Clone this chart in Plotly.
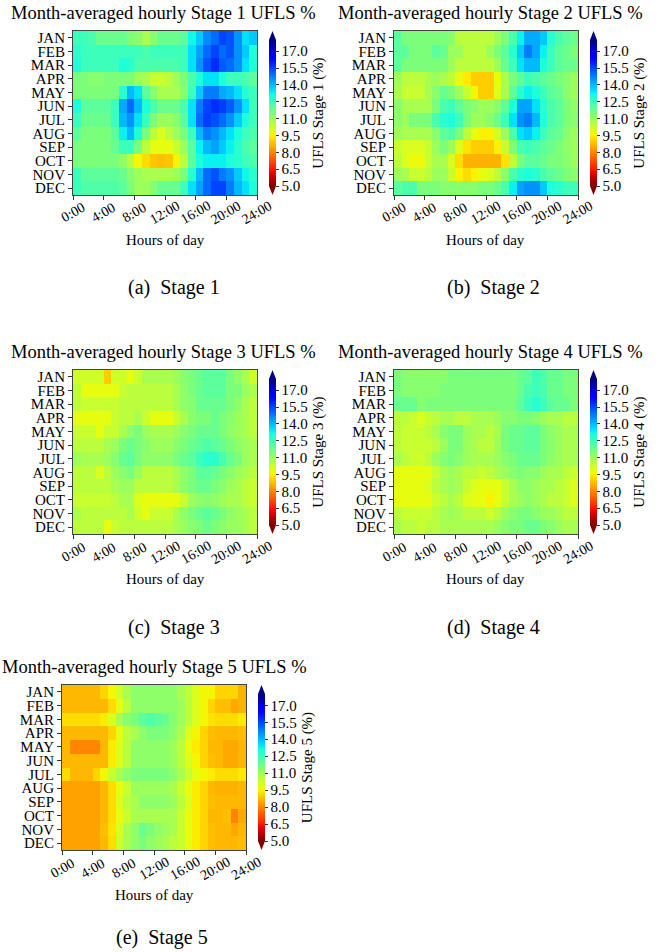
import numpy as np
import plotly.graph_objects as go

W, H = 663, 952

months = ["JAN", "FEB", "MAR", "APR", "MAY", "JUN", "JUL", "AUG", "SEP", "OCT", "NOV", "DEC"]
hour_ticks = [0, 4, 8, 12, 16, 20, 24]
hour_labels = ["0:00", "4:00", "8:00", "12:00", "16:00", "20:00", "24:00"]
cbar_ticks = [5.0, 6.5, 8.0, 9.5, 11.0, 12.5, 14.0, 15.5, 17.0]

stage1 = [
    [12.5,12.5,12.3,11.8,11.8,11.8,11.8,11.5,11.3,10.8,11.3,11.8,11.8,11.8,12.0,13.2,13.8,14.6,15.0,15.5,15.3,14.5,13.5,13.8],
    [12.8,12.5,12.5,12.5,12.5,12.5,12.5,12.5,12.5,12.3,12.5,12.5,12.5,12.5,12.5,13.5,14.3,15.0,15.5,15.0,15.3,14.5,13.8,13.0],
    [13.0,12.5,12.5,12.5,12.5,12.5,13.0,12.8,12.3,12.3,12.3,12.3,12.3,12.3,12.5,13.5,14.5,15.3,15.8,15.2,15.0,14.5,13.5,13.0],
    [11.5,11.5,11.3,11.3,11.5,11.5,11.5,11.5,11.0,10.8,10.3,10.3,10.5,11.0,11.5,12.3,13.0,13.5,13.5,13.0,12.5,12.5,12.3,12.0],
    [11.5,11.5,11.5,11.5,11.5,11.5,12.8,14.0,13.5,12.0,11.3,10.8,10.8,10.8,11.3,12.5,13.8,14.8,14.8,14.2,14.0,13.5,12.8,12.5],
    [13.0,12.0,12.0,12.0,12.0,12.5,14.2,15.0,14.0,13.0,12.3,11.8,11.8,11.8,12.3,13.5,14.8,15.5,15.8,15.6,15.2,14.5,13.5,12.5],
    [12.5,11.8,11.8,11.8,11.8,12.5,14.0,14.5,13.5,12.5,11.5,11.0,11.0,11.3,12.0,13.5,15.0,15.6,15.4,15.0,14.5,13.8,13.0,12.5],
    [12.0,11.5,11.5,11.5,11.5,12.0,13.3,14.0,13.0,11.5,10.5,10.0,10.5,11.0,11.5,12.5,14.0,14.8,14.5,14.0,13.5,13.0,12.5,12.3],
    [11.5,11.5,11.5,11.5,11.5,11.8,12.5,12.5,11.5,10.5,9.8,9.8,9.8,10.3,11.0,12.0,13.3,14.0,14.3,13.8,13.3,12.8,12.3,12.0],
    [11.5,11.5,11.5,11.5,11.5,11.5,11.2,10.5,9.6,9.2,8.9,8.8,8.9,9.5,10.5,12.0,13.0,13.3,13.3,13.3,13.0,12.8,12.5,12.3],
    [12.5,12.0,12.0,12.0,12.0,12.0,11.8,11.3,11.0,10.8,10.8,10.8,10.8,11.0,11.5,12.8,14.0,15.0,15.3,14.8,14.5,13.8,13.2,12.8],
    [12.5,12.2,12.2,12.2,12.2,12.2,12.0,11.5,11.0,11.0,11.3,11.8,11.8,11.8,12.5,13.5,14.3,15.0,15.5,15.5,14.8,14.0,13.5,13.0],
]

stage2 = [
    [12.0,11.5,11.5,11.5,11.5,11.5,11.5,11.3,10.5,10.5,10.5,10.5,10.5,11.0,11.5,12.3,13.3,14.2,14.2,13.8,12.8,12.3,12.0,11.8],
    [12.0,12.0,11.5,11.5,11.5,12.0,11.8,11.0,11.0,10.5,10.5,10.5,11.0,11.5,12.0,12.8,13.8,14.8,14.2,13.3,12.5,12.0,11.8,11.5],
    [12.0,11.5,11.5,11.5,11.5,11.5,11.5,11.0,10.5,10.5,10.5,10.5,10.5,11.0,11.8,12.5,13.5,14.0,14.0,13.0,12.5,12.0,11.8,11.8],
    [11.0,10.5,10.5,10.5,10.8,11.0,10.8,10.5,9.8,9.4,9.0,9.0,9.0,9.8,10.8,11.5,12.0,12.5,12.3,12.0,11.8,11.5,11.3,11.0],
    [10.8,10.3,10.3,10.3,10.8,11.3,11.8,11.5,11.0,10.3,9.6,9.0,9.0,10.0,10.8,12.0,12.8,13.3,13.0,12.5,12.0,11.8,11.3,11.0],
    [11.3,10.8,10.8,10.8,10.8,11.5,12.3,12.5,12.0,11.5,11.3,11.0,11.0,11.3,12.0,13.0,14.3,14.3,13.5,12.8,12.3,12.0,11.5,11.2],
    [11.3,11.0,11.5,11.5,11.5,12.3,12.8,13.0,12.5,11.5,11.0,11.0,11.3,11.8,12.5,13.5,14.5,14.8,14.0,13.0,12.3,12.0,11.5,11.3],
    [11.0,10.8,10.8,10.8,10.8,11.3,12.0,12.2,11.5,10.5,9.8,9.5,9.5,10.2,11.0,12.3,13.5,13.8,13.3,12.5,12.0,11.8,11.3,11.0],
    [10.3,10.0,10.0,10.0,10.3,11.0,11.5,11.0,10.0,9.3,9.0,9.0,9.0,9.5,10.3,11.5,12.3,12.5,12.3,12.0,11.8,11.5,11.2,11.0],
    [10.5,10.0,9.7,9.7,10.3,10.8,10.8,10.0,9.2,8.6,8.6,8.6,8.6,8.6,9.3,10.5,11.5,12.0,12.0,11.8,11.5,11.5,11.3,11.0],
    [11.0,10.8,10.3,10.3,10.5,11.0,11.0,10.3,9.5,9.2,9.5,9.8,10.0,10.5,11.3,12.3,12.8,13.0,12.8,12.3,12.0,11.8,11.5,11.3],
    [12.0,12.3,12.3,11.5,11.5,11.5,11.3,11.3,11.3,11.3,11.3,11.5,11.5,11.8,12.3,13.3,14.3,14.5,14.5,13.8,13.0,12.8,12.5,12.5],
]

stage3 = [
    [10.2,10.2,10.2,10.2,9.0,10.2,10.2,9.8,10.3,10.8,10.8,10.8,10.8,11.0,11.3,11.5,11.8,12.0,12.0,12.0,11.5,11.2,10.8,10.2],
    [10.5,9.8,9.8,9.8,9.8,9.8,10.3,10.5,10.5,10.5,10.5,10.5,10.5,10.8,11.2,11.5,11.8,12.0,12.0,12.0,11.5,11.5,11.0,10.8],
    [10.5,10.3,10.3,10.3,10.3,10.3,10.5,10.5,10.5,10.5,10.5,10.5,10.5,10.8,11.2,11.3,11.8,11.8,11.8,11.8,11.5,11.2,10.8,10.5],
    [9.8,9.8,9.8,9.8,9.8,10.3,10.5,10.5,10.8,10.3,9.8,9.8,9.8,10.3,10.8,11.3,11.5,11.5,11.8,11.5,11.3,11.0,10.8,10.5],
    [10.3,10.3,10.3,9.8,10.3,10.3,10.8,11.2,11.5,11.0,10.8,10.8,10.8,11.0,11.3,11.5,11.8,11.8,11.8,11.5,11.2,11.0,10.8,10.5],
    [10.5,10.5,10.5,10.5,10.8,11.0,11.5,11.8,11.5,11.3,11.0,11.0,11.0,11.3,11.5,11.8,12.0,12.2,12.0,11.8,11.5,11.2,11.0,10.8],
    [11.0,10.8,10.8,10.8,11.0,11.3,11.8,12.0,11.5,11.2,11.2,11.2,11.2,11.5,11.8,12.0,12.5,12.8,12.8,12.3,11.8,11.5,11.0,10.8],
    [10.5,10.5,10.5,10.0,10.5,11.0,11.3,11.5,11.0,10.5,10.5,10.5,10.5,10.8,11.2,11.5,12.0,12.0,11.8,11.5,11.3,11.0,10.8,10.5],
    [10.5,10.5,10.5,10.5,10.5,10.8,11.0,11.0,10.5,10.5,10.5,10.5,10.5,10.8,11.2,11.5,11.8,11.8,11.5,11.3,11.0,10.8,10.5,10.3],
    [10.3,10.3,10.3,10.3,10.3,10.5,10.8,10.8,10.0,9.8,9.8,9.8,9.8,9.8,10.3,11.0,11.2,11.3,11.2,11.0,10.8,10.8,10.5,10.3],
    [10.8,10.5,10.5,10.5,10.5,10.5,10.5,10.8,10.2,9.8,10.3,10.3,10.3,10.8,11.2,11.5,11.8,12.0,11.8,11.5,11.2,11.0,10.8,10.5],
    [10.5,10.5,10.5,10.5,9.8,10.3,10.5,10.5,10.5,10.5,10.5,10.5,10.5,10.8,11.0,11.3,11.5,11.8,11.5,11.3,11.0,11.0,10.8,10.5],
]

stage4 = [
    [11.5,11.3,11.3,11.3,11.3,11.3,11.3,11.5,11.5,11.5,11.5,11.5,11.5,11.5,11.5,11.5,11.8,12.0,12.5,12.2,11.8,11.8,11.5,11.5],
    [11.5,11.3,11.3,11.3,11.3,11.3,11.5,11.5,11.5,11.5,11.5,11.5,11.5,11.5,11.5,11.5,11.8,12.3,12.5,12.3,11.8,11.8,11.5,11.5],
    [11.8,11.8,11.8,11.3,11.5,11.5,11.5,11.5,11.5,11.5,11.5,11.5,11.5,11.5,11.5,11.5,12.0,12.5,12.8,12.5,12.0,11.8,11.8,11.5],
    [10.5,10.5,10.3,10.0,10.3,10.5,10.8,10.8,10.5,10.5,10.8,10.8,10.8,11.0,11.3,11.3,11.5,11.5,11.3,11.0,10.8,10.8,10.5,10.5],
    [10.5,10.3,10.3,10.3,10.5,10.8,11.3,11.5,11.5,11.0,10.8,10.8,10.5,10.8,11.5,11.8,11.8,12.0,12.0,11.5,11.2,11.0,10.8,10.8],
    [10.5,10.3,10.3,10.3,10.3,10.5,11.0,11.5,11.5,11.0,10.8,10.5,10.5,11.0,11.5,11.8,11.8,12.0,12.0,11.5,11.3,11.0,10.8,10.8],
    [10.8,10.5,10.3,10.2,10.5,11.0,11.3,11.5,11.3,11.0,10.8,10.8,10.8,11.0,11.3,11.5,11.8,11.8,11.8,11.5,11.2,11.0,10.8,10.8],
    [9.8,9.8,9.8,9.8,9.8,10.3,10.8,11.0,10.8,10.5,10.5,10.3,10.5,10.8,11.0,11.3,11.5,11.3,11.3,11.0,10.8,10.8,10.5,10.3],
    [9.8,9.8,9.8,9.8,10.0,10.5,10.8,11.0,10.8,10.3,10.0,9.8,9.8,9.8,10.3,10.8,11.2,11.2,11.0,10.8,10.8,10.5,10.3,10.0],
    [9.8,9.8,9.8,9.8,9.8,10.3,10.5,10.8,10.5,10.0,9.8,9.8,9.5,9.8,10.3,10.8,11.0,11.2,11.0,10.8,10.5,10.5,10.3,10.0],
    [10.5,10.3,10.3,10.3,10.3,10.5,10.8,11.0,10.8,10.5,10.5,10.5,10.2,10.5,11.0,11.3,11.5,11.5,11.3,11.0,11.0,10.8,10.5,10.5],
    [10.8,10.5,10.5,10.3,10.5,10.5,10.8,10.8,10.8,10.8,10.8,10.8,10.8,11.0,11.3,11.5,11.5,11.8,11.8,11.5,11.3,11.0,10.8,10.8],
]

stage5 = [
    [8.7,8.7,8.7,8.7,8.7,9.1,9.6,10.2,10.8,11.2,11.2,11.2,11.2,11.2,11.2,10.8,10.5,10.0,9.6,9.6,9.1,9.1,9.1,8.6],
    [8.7,8.7,8.7,8.7,8.7,8.7,9.2,9.8,10.5,11.2,11.2,11.2,11.2,11.2,11.2,11.0,10.5,10.0,9.6,9.1,8.8,8.8,8.5,8.6],
    [9.2,9.2,9.2,9.2,9.2,9.4,10.0,10.8,11.3,11.5,12.0,12.2,12.0,11.8,11.3,11.0,10.5,10.0,9.6,9.3,9.2,9.2,9.2,9.4],
    [8.7,8.7,8.7,8.7,8.7,8.7,9.1,9.8,10.5,10.8,11.2,11.5,11.5,11.5,11.2,10.8,10.0,9.6,9.1,8.8,8.7,8.7,8.7,8.8],
    [8.7,8.0,8.0,8.0,8.0,8.7,9.4,10.0,10.5,11.2,11.2,11.2,11.2,11.2,11.0,10.5,9.8,9.4,9.1,8.7,8.7,8.5,8.5,8.7],
    [8.7,8.7,8.7,8.7,8.7,8.7,9.4,10.0,10.5,11.2,11.2,11.2,11.2,11.2,11.0,10.5,10.0,9.6,9.1,8.8,8.7,8.5,8.5,8.7],
    [9.2,8.7,8.7,8.7,9.1,9.6,10.3,10.8,11.2,11.5,11.5,11.5,11.5,11.5,11.2,10.8,10.3,9.8,9.6,9.4,9.2,9.2,9.2,9.4],
    [8.4,8.4,8.4,8.4,8.4,8.7,9.2,9.8,10.3,11.0,11.0,11.0,11.0,11.0,10.8,10.3,9.8,9.4,9.1,8.7,8.6,8.6,8.6,8.7],
    [8.4,8.4,8.4,8.4,8.4,8.7,9.2,10.0,10.5,10.8,11.2,11.2,11.2,11.2,11.0,10.5,10.0,9.4,9.1,8.8,8.7,8.7,8.7,8.7],
    [8.4,8.4,8.4,8.4,8.4,8.7,9.2,9.8,10.3,10.8,10.8,10.8,10.8,10.8,10.8,10.3,9.8,9.4,9.1,8.7,8.7,8.8,8.0,8.5],
    [8.4,8.4,8.4,8.4,8.4,8.8,9.3,10.0,10.8,11.2,11.8,11.5,11.2,11.0,10.8,10.3,9.8,9.4,9.1,8.8,8.7,8.7,8.5,8.7],
    [8.4,8.4,8.4,8.4,8.4,8.7,9.2,10.2,10.8,11.2,11.5,11.2,11.0,10.8,10.5,10.3,9.8,9.4,9.1,8.8,8.7,8.7,8.7,8.8],
]

stages = [stage1, stage2, stage3, stage4, stage5]
stage_names = ["1", "2", "3", "4", "5"]
sub_letters = ["a", "b", "c", "d", "e"]
ZMIN, ZMAX = 5.0, 18.0


def jet(s):
    r = np.interp(s, [0, 0.35, 0.66, 0.89, 1], [0, 0, 1, 1, 0.5])
    g = np.interp(s, [0, 0.125, 0.375, 0.64, 0.91, 1], [0, 0, 1, 1, 0, 0])
    b = np.interp(s, [0, 0.11, 0.34, 0.65, 1], [0.5, 1, 1, 0, 0])
    return "rgb(%d,%d,%d)" % (round(r * 255), round(g * 255), round(b * 255))


stops = sorted(set(list(np.linspace(0, 1, 41)) + [0.11, 0.125, 0.34, 0.35, 0.375, 0.64, 0.65, 0.66, 0.89, 0.91]))
colorscale = [[t, jet(1 - t)] for t in stops]

FONT = "Liberation Serif"

# panel geometry in pixels
panels = [
    dict(x0=73, x1=257, y0=31, y1=195, cbx=269, tx=163, ty=13, sx=174, sy=287),
    dict(x0=394, x1=578, y0=31, y1=195, cbx=590, tx=490, ty=13, sx=493, sy=287),
    dict(x0=73, x1=257, y0=370, y1=534, cbx=269, tx=163, ty=352, sx=174, sy=627),
    dict(x0=394, x1=578, y0=370, y1=534, cbx=590, tx=490, ty=352, sx=493, sy=627),
    dict(x0=62, x1=246, y0=685, y1=850, cbx=258, tx=154, ty=667, sx=162, sy=937),
]


def px(x):
    return x / W


def py(y):
    return 1 - y / H


fig = go.Figure()
hours = [h + 0.5 for h in range(24)]
annotations = []
shapes = []
CBW = 7
TRI = 9

for i, (z, p) in enumerate(zip(stages, panels)):
    ax = "" if i == 0 else str(i + 1)
    cb_top = p["y0"] + TRI
    cb_bot = p["y1"] - TRI
    fig.add_trace(go.Heatmap(
        z=z, x=hours, y=list(range(12)),
        zmin=ZMIN, zmax=ZMAX, colorscale=colorscale, zsmooth=False,
        xaxis="x" + ax, yaxis="y" + ax,
        colorbar=dict(
            x=px(p["cbx"]), xanchor="left", xpad=0, ypad=0,
            y=py((cb_top + cb_bot) / 2), yanchor="middle",
            len=(cb_bot - cb_top) / H, lenmode="fraction",
            thickness=CBW, outlinewidth=0,
            tickvals=cbar_ticks, ticktext=["%.1f" % v for v in cbar_ticks],
            ticks="outside", ticklen=3, tickcolor="#333",
            tickfont=dict(family=FONT, size=15, color="black"),
            title=dict(text="UFLS Stage %s (%%)" % stage_names[i], side="right",
                       font=dict(family=FONT, size=15, color="black")),
        ),
        hovertemplate="%{z}<extra></extra>",
    ))
    fig.update_layout(**{
        "xaxis" + ax: dict(
            domain=[px(p["x0"]), px(p["x1"])], anchor="y" + ax, range=[0, 24],
            tickvals=hour_ticks, ticktext=hour_labels, showticklabels=False,
            ticks="outside", ticklen=4, tickcolor="#333",
            showline=True, mirror=True, linecolor="#444", linewidth=1,
            showgrid=False, zeroline=False, automargin=False,
        ),
        "yaxis" + ax: dict(
            domain=[py(p["y1"]), py(p["y0"])], anchor="x" + ax, range=[11.5, -0.5],
            tickvals=list(range(12)), ticktext=months,
            ticks="outside", ticklen=4, tickcolor="#333",
            showline=True, mirror=True, linecolor="#444", linewidth=1,
            showgrid=False, zeroline=False, automargin=False,
            tickfont=dict(family=FONT, size=15, color="black"),
        ),
    })
    for tv, tl in zip(hour_ticks, hour_labels):
        annotations.append(dict(
            text=tl, x=tv, y=py(p["y1"] + 18), xref="x" + ax, yref="paper",
            xanchor="center", yanchor="middle", textangle=-30, showarrow=False,
            font=dict(family=FONT, size=14, color="black")))
    annotations.append(dict(
        text="Month-averaged hourly Stage %s UFLS %%" % stage_names[i],
        x=px(p["tx"]), y=py(p["ty"]), xref="paper", yref="paper",
        xanchor="center", yanchor="middle", showarrow=False,
        font=dict(family=FONT, size=18.5, color="black")))
    annotations.append(dict(
        text="Hours of day",
        x=px((p["x0"] + p["x1"]) / 2), y=py(p["y1"] + 45), xref="paper", yref="paper",
        xanchor="center", yanchor="middle", showarrow=False,
        font=dict(family=FONT, size=15, color="black")))
    annotations.append(dict(
        text="(%s)  Stage %s" % (sub_letters[i], stage_names[i]),
        x=px(p["sx"]), y=py(p["sy"]), xref="paper", yref="paper",
        xanchor="center", yanchor="middle", showarrow=False,
        font=dict(family=FONT, size=20, color="black")))
    cx0, cx1 = px(p["cbx"]), px(p["cbx"] + CBW)
    cxm = (cx0 + cx1) / 2
    shapes.append(dict(type="path", xref="paper", yref="paper",
                       path="M %f,%f L %f,%f L %f,%f Z" % (cx0, py(cb_top), cx1, py(cb_top), cxm, py(cb_top - TRI)),
                       fillcolor="rgb(0,0,128)", line=dict(width=0)))
    shapes.append(dict(type="path", xref="paper", yref="paper",
                       path="M %f,%f L %f,%f L %f,%f Z" % (cx0, py(cb_bot), cx1, py(cb_bot), cxm, py(cb_bot + TRI)),
                       fillcolor="rgb(128,0,0)", line=dict(width=0)))

fig.update_layout(
    template="none",
    width=W, height=H, margin=dict(l=0, r=0, t=0, b=0, autoexpand=False),
    paper_bgcolor="white", plot_bgcolor="white",
    annotations=annotations, shapes=shapes, showlegend=False,
    font=dict(family=FONT, color="black"),
)

fig.write_html("out.html")
